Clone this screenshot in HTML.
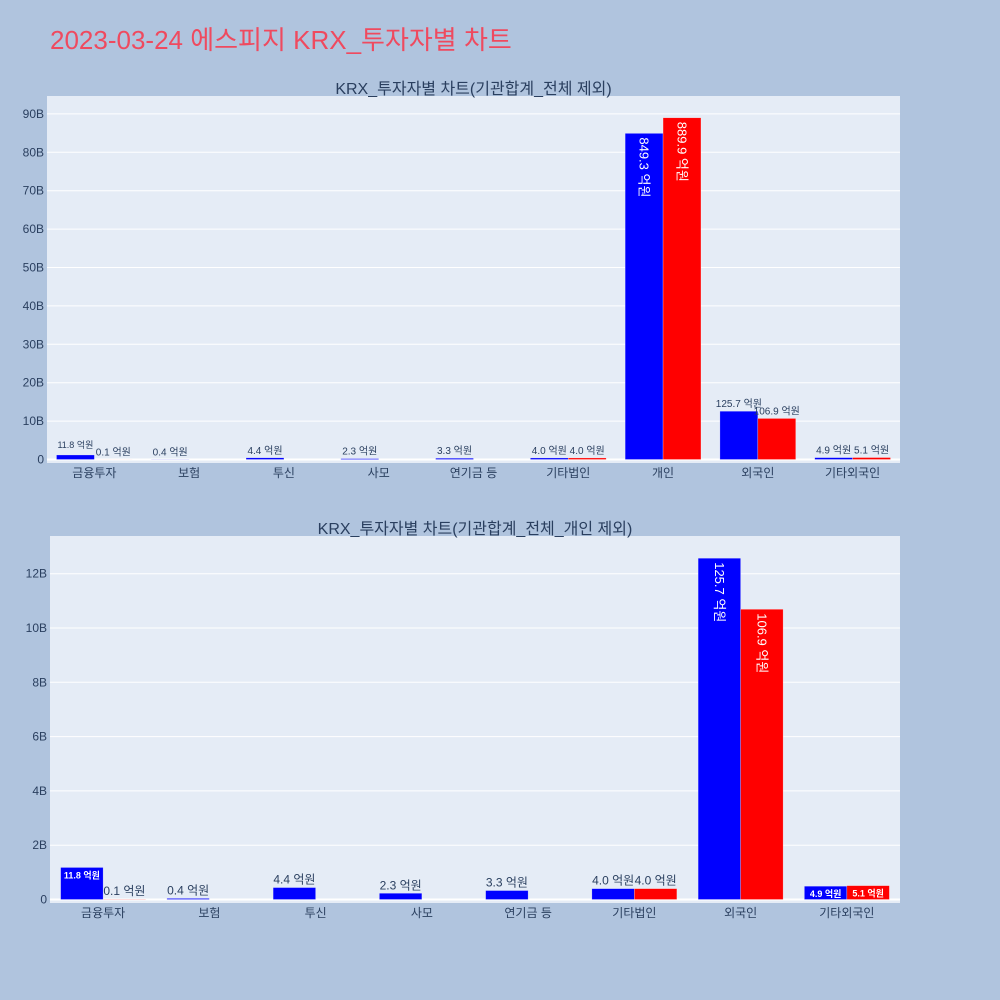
<!DOCTYPE html>
<html><head><meta charset="utf-8"><style>
body{margin:0;background:#b0c4de;font-family:"Liberation Sans","Noto Sans CJK KR",sans-serif}
</style></head><body>
<svg id="s" width="1000" height="1000" xmlns="http://www.w3.org/2000/svg" style="display:block">
<rect width="1000" height="1000" fill="#b0c4de"/>
<text x="50" y="49" font-size="26" fill="#ef4a5f" font-family="Liberation Sans, Noto Sans CJK KR, sans-serif">2023-03-24 에스피지 KRX_투자자별 차트</text>
</svg>
<script>
const cats1=["금융투자","보험","투신","사모","연기금 등","기타법인","개인","외국인","기타외국인"];
const blue1=[11.8,0.4,4.4,2.3,3.3,4.0,849.3,125.7,4.9];
const red1=[0.1,0,0,0,0,4.0,889.9,106.9,5.1];
const ticks1=[0,10,20,30,40,50,60,70,80,90];
const cats2=["금융투자","보험","투신","사모","연기금 등","기타법인","외국인","기타외국인"];
const blue2=[11.8,0.4,4.4,2.3,3.3,4.0,125.7,4.9];
const red2=[0.1,0,0,0,0,4.0,106.9,5.1];
const ticks2=[0,2,4,6,8,10,12];
const NS="http://www.w3.org/2000/svg",svg=document.getElementById('s');
const F='Liberation Sans, Noto Sans CJK KR, sans-serif';
function mk(t,a,p){const e=document.createElementNS(NS,t);for(const k in a)e.setAttribute(k,a[k]);(p||svg).appendChild(e);return e;}
function chart(o){
 const g=mk('g',{});
 
 
 const bg=mk('rect',{x:o.x0,y:o.top,width:o.x1-o.x0,height:o.bot-o.top,fill:'#e5ecf6'},g);
 
 
 const y=v=>o.zero-(v/o.unit)*o.tickPx; // v in 억원 -> B units
 o.ticks.forEach(t=>{
  const yy=o.zero-t/o.tickStep*o.tickPx*1;
  const ln=mk('line',{x1:o.x0,x2:o.x1,y1:yy,y2:yy,stroke:'#fff','stroke-width':t==0?2:1},g);
  
  
  const tx=mk('text',{x:o.x0-3,y:yy+4,'font-size':12,fill:'#2a3f5f','text-anchor':'end','font-family':F},g);
  tx.textContent=t+(t?'B':'');
  
  
 });
 const n=o.cats.length,step=(o.x1-o.x0)/n,bw=step*0.4;
 const scale=v=>o.zero-(v/10)/o.tickStep*o.tickPx;
 o.cats.forEach((c,i)=>{
  const cx=o.x0+step*(i+0.5);
  const tx=mk('text',{x:cx,y:o.bot+14,'font-size':12,fill:'#2a3f5f','text-anchor':'middle','font-family':F},g);
  tx.textContent=c;
  
  
  [[o.blue[i],'#0000ff',cx-bw,'bar-buy'],[o.red[i],'#ff0000',cx,'bar-sell']].forEach(([v,col,bx,nm])=>{
   const top=scale(v);
   const r=mk('rect',{x:bx,y:top,width:bw,height:Math.max(0,o.zero-top),fill:col,stroke:'rgba(255,255,255,0.5)','stroke-width':0.5},g);
   
   
   if(v<=0)return;
   const lab=v.toFixed(1)+' 억원';
   const h=o.zero-top;
   let t;
   if(h>60){
    const fs=o.inFs(v);
    t=mk('text',{x:bx+bw/2-fs*0.35,y:top+4,'font-size':fs,fill:'#fff','font-family':F,transform:`rotate(90 ${bx+bw/2-fs*0.35} ${top+4})`},g);
   }else if(h>12 && o.inside){
    t=mk('text',{x:bx+bw/2,y:top+11,'font-size':9,'font-weight':'bold',fill:'#fff','text-anchor':'middle','font-family':F},g);
   }else{
    const fs=(i==0&&col=='#0000ff'&&o.small)?9:o.outFs;
    t=mk('text',{x:bx+bw/2,y:top-(i==0&&col=='#0000ff'&&o.small?7:4),'font-size':fs,fill:'#2a3f5f','text-anchor':'middle','font-family':F},g);
   }
   t.textContent=lab;
   
   
  });
 });
 const tt=mk('text',{x:(o.x0+o.x1)/2,y:o.top-2,'font-size':16,fill:'#2a3f5f','text-anchor':'middle','font-family':F},g);
 tt.textContent=o.title;
 
 
}
chart({name:'chart-excl-total',x0:47,x1:900,top:96,bot:463,zero:459.5,tickStep:10,tickPx:38.4,ticks:ticks1,cats:cats1,blue:blue1,red:red1,title:'KRX_투자자별 차트(기관합계_전체 제외)',outFs:10,small:true,inside:false,inFs:v=>v>500?13:9});
chart({name:'chart-excl-individual',x0:50,x1:900,top:536,bot:903,zero:899.5,tickStep:2,tickPx:54.3,ticks:ticks2,cats:cats2,blue:blue2,red:red2,title:'KRX_투자자별 차트(기관합계_전체_개인 제외)',outFs:12,small:false,inside:true,inFs:v=>13});
</script>
</body></html>
